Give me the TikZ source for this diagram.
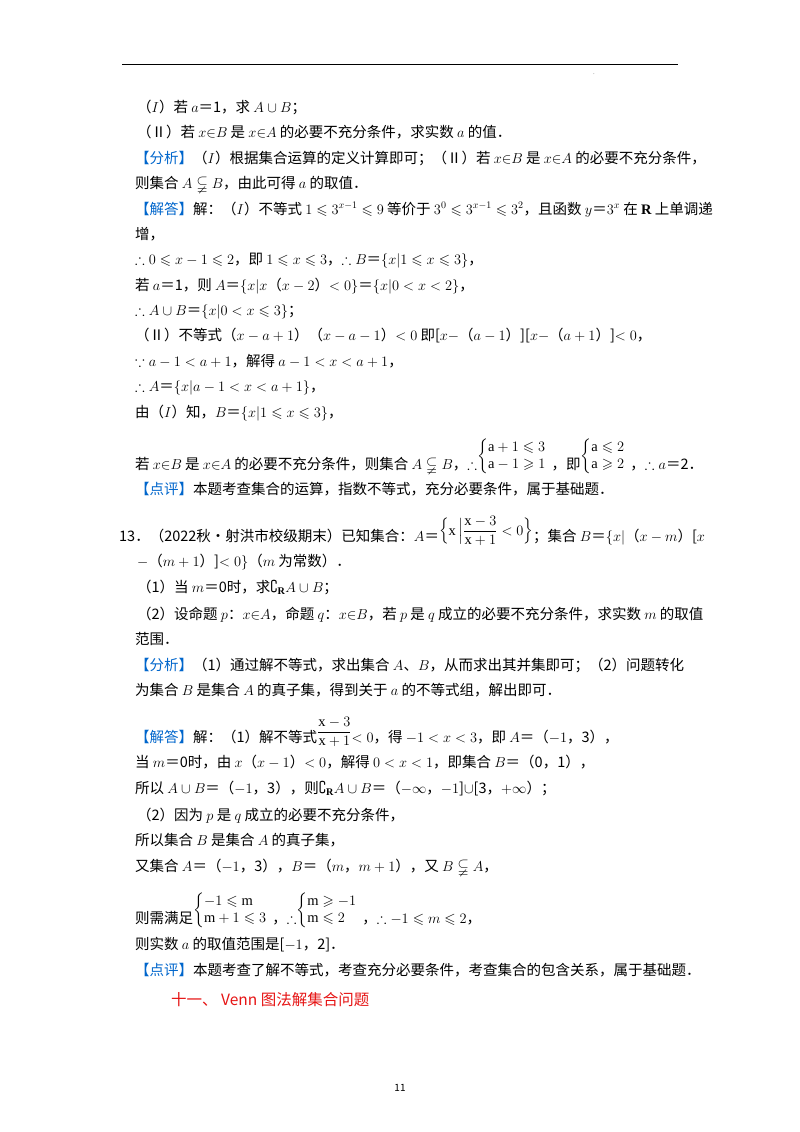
\documentclass[tikz,border=0pt]{standalone}
\usepackage{amsmath,amssymb}
\usepackage{fontspec}
\setmainfont{Liberation Serif}
\newfontfamily\cjk{Noto Sans CJK SC}
\definecolor{tagblue}{RGB}{0,102,204}
\definecolor{headred}{RGB}{230,20,20}
\newcommand\tg[1]{\textcolor{tagblue}{【#1】}}
\newcommand\sysup[2]{\raisebox{9pt}{$\left\{\begin{array}{@{}l}#1\\ #2\end{array}\right.$}}
\newcommand\fracup[2]{\raisebox{6pt}{$\dfrac{#1}{#2}$}}
\begin{document}
\begin{tikzpicture}[x=1pt,y=1pt,
  tl/.style={anchor=base west,inner sep=0pt,font=\cjk\fontsize{14.5}{17}\selectfont}]
\useasboundingbox (0,0) rectangle (800,-1132);
\fill[white] (0,0) rectangle (800,-1132);
\draw[line width=0.8pt] (122,-64) -- (678,-64);
\node[font=\tiny] (dot) at (594,-74) {.};
\node[tl] (l1) at (137,-112) {（$I$）若 $a$＝1，求 $A\cup B$；};
\node[tl] (l2) at (137,-137) {（Ⅱ）若 $x{\in}B$ 是 $x{\in}A$ 的必要不充分条件，求实数 $a$ 的值．};
\node[tl] (l3) at (135,-163) {\tg{分析}（$I$）根据集合运算的定义计算即可；（Ⅱ）若 $x{\in}B$ 是 $x{\in}A$ 的必要不充分条件，};
\node[tl] (l4) at (135,-188) {则集合 $A\subsetneqq B$，由此可得 $a$ 的取值．};
\node[tl] (l5) at (135,-214) {\tg{解答}解：（$I$）不等式 $1\leqslant3^{x-1}\leqslant9$ 等价于 $3^0\leqslant3^{x-1}\leqslant3^2$，且函数 $y$＝$3^x$ 在 $\mathbf{R}$ 上单调递};
\node[tl] (l6) at (135,-239) {增，};
\node[tl] (l7) at (135,-264) {$\therefore0\leqslant x-1\leqslant2$，即 $1\leqslant x\leqslant3$，$\therefore B$＝$\{x|1\leqslant x\leqslant3\}$，};
\node[tl] (l8) at (135,-290) {若 $a$＝1，则 $A$＝$\{x|x$（$x-2$）$<0\}$＝$\{x|0<x<2\}$，};
\node[tl] (l9) at (135,-315) {$\therefore A\cup B$＝$\{x|0<x\leqslant3\}$；};
\node[tl] (l10) at (135,-340) {（Ⅱ）不等式（$x-a+1$）（$x-a-1$）$<0$ 即[$x-$（$a-1$）][$x-$（$a+1$）]$<0$，};
\node[tl] (l11) at (135,-366) {$\because a-1<a+1$，解得 $a-1<x<a+1$，};
\node[tl] (l12) at (135,-391) {$\therefore A$＝$\{x|a-1<x<a+1\}$，};
\node[tl] (l13) at (135,-417) {由（$I$）知，$B$＝$\{x|1\leqslant x\leqslant3\}$，};
\node[tl] (l14) at (135,-469) {若 $x{\in}B$ 是 $x{\in}A$ 的必要不充分条件，则集合 $A\subsetneqq B$，$\therefore$\sysup{\mathrm{a}+1\leqslant3}{\mathrm{a}-1\geqslant1}，即\sysup{\mathrm{a}\leqslant2}{\mathrm{a}\geqslant2}，$\therefore a$＝2．};
\node[tl] (l15) at (135,-494) {\tg{点评}本题考查集合的运算，指数不等式，充分必要条件，属于基础题．};
\node[tl] (m1) at (119,-541) {13．（2022秋•射洪市校级期末）已知集合：$A$＝\raisebox{6pt}{$\Big\{\mathrm{x}\,\Big|\dfrac{\mathrm{x}-3}{\mathrm{x}+1}<0\Big\}$}；集合 $B$＝$\{x|$（$x-m$）[$x$};
\node[tl] (m2) at (137,-566) {$-$（$m+1$）]$<0\}$（$m$ 为常数）．};
\node[tl] (m3) at (137,-592) {（1）当 $m$＝0时，求$\complement_{\mathbf R}A\cup B$；};
\node[tl] (m4) at (137,-619) {（2）设命题 $p$：$x{\in}A$，命题 $q$：$x{\in}B$，若 $p$ 是 $q$ 成立的必要不充分条件，求实数 $m$ 的取值};
\node[tl] (m5) at (135,-644) {范围．};
\node[tl] (m6) at (135,-670) {\tg{分析}（1）通过解不等式，求出集合 $A$、$B$，从而求出其并集即可；（2）问题转化};
\node[tl] (m7) at (135,-695) {为集合 $B$ 是集合 $A$ 的真子集，得到关于 $a$ 的不等式组，解出即可．};
\node[tl] (m8) at (135,-742) {\tg{解答}解：（1）解不等式\fracup{\mathrm{x}-3}{\mathrm{x}+1}$<0$，得 $-1<x<3$，即 $A$＝（$-1$，3），};
\node[tl] (m9) at (135,-767) {当 $m$＝0时，由 $x$（$x-1$）$<0$，解得 $0<x<1$，即集合 $B$＝（0，1），};
\node[tl] (m10) at (135,-793) {所以 $A\cup B$＝（$-1$，3），则$\complement_{\mathbf R}A\cup B$＝（$-\infty$，$-1$]$\cup$[3，$+\infty$）；};
\node[tl] (m11) at (137,-820) {（2）因为 $p$ 是 $q$ 成立的必要不充分条件，};
\node[tl] (m12) at (135,-845) {所以集合 $B$ 是集合 $A$ 的真子集，};
\node[tl] (m13) at (135,-871) {又集合 $A$＝（$-1$，3），$B$＝（$m$，$m+1$），又 $B\subsetneqq A$，};
\node[tl] (m14) at (135,-923) {则需满足\sysup{-1\leqslant\mathrm{m}}{\mathrm{m}+1\leqslant3}，$\therefore$\sysup{\mathrm{m}\geqslant-1}{\mathrm{m}\leqslant2}，$\therefore-1\leqslant m\leqslant2$，};
\node[tl] (m15) at (135,-949) {则实数 $a$ 的取值范围是[$-1$，2]．};
\node[tl] (m16) at (135,-975) {\tg{点评}本题考查了解不等式，考查充分必要条件，考查集合的包含关系，属于基础题．};
\node[tl,text=headred,font=\cjk\fontsize{15.5}{18}\selectfont] (h) at (171,-1005) {十一、 Venn 图法解集合问题};
\node[font=\cjk\fontsize{10}{12}\selectfont] (pg) at (400,-1088) {11};
\end{tikzpicture}
\end{document}
